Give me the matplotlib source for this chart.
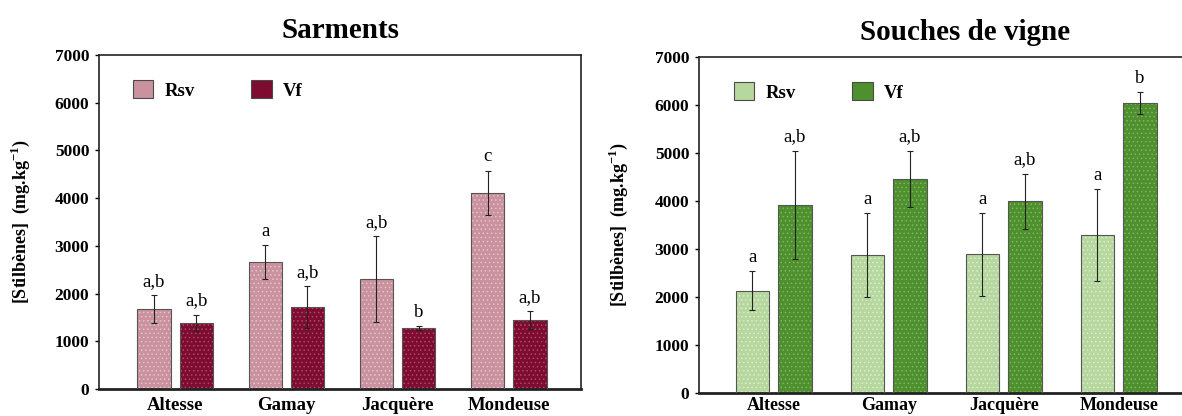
import matplotlib
matplotlib.use("Agg")
import matplotlib.pyplot as plt
import numpy as np
from matplotlib.patches import Patch

plt.rcParams['font.family'] = ['Liberation Serif', 'DejaVu Serif']
plt.rcParams['hatch.linewidth'] = 0.6

categories = ["Altesse", "Gamay", "Jacquère", "Mondeuse"]
series_names = ["Rsv", "Vf"]

# Sarments
sar_rsv = [1675, 2660, 2300, 4115]
sar_rsv_err = [285, 350, 905, 460]
sar_vf = [1385, 1715, 1285, 1440]
sar_vf_err = [175, 440, 40, 190]
sar_rsv_lab = ["a,b", "a", "a,b", "c"]
sar_vf_lab = ["a,b", "a,b", "b", "a,b"]

# Souches de vigne
sou_rsv = [2135, 2870, 2890, 3285]
sou_rsv_err = [410, 875, 860, 960]
sou_vf = [3915, 4455, 3990, 6035]
sou_vf_err = [1130, 590, 580, 230]
sou_rsv_lab = ["a", "a", "a", "a"]
sou_vf_lab = ["a,b", "a,b", "a,b", "b"]

titles = ["Sarments", "Souches de vigne"]
yticks = [0, 1000, 2000, 3000, 4000, 5000, 6000, 7000]
ylabel = "[Stilbènes]  (mg.kg$^{\\mathregular{-1}}$)"

fig = plt.figure(figsize=(11.82, 4.16), dpi=100)

panels = [
    dict(rect=[99/1182, 1-389/416, 482/1182, 334/416], xlim=(-0.685, 3.65),
         rsv=sar_rsv, rsv_err=sar_rsv_err, vf=sar_vf, vf_err=sar_vf_err,
         rl=sar_rsv_lab, vl=sar_vf_lab,
         c1="#c9929e", h1="#e4c3ca", c2="#7e0c31", h2="#a84a68",
         off=0.19, w=0.30, title=titles[0], ylpad=16, tx=0.5, lx=0.035,
         xpad=6, xfs=13.5),
    dict(rect=[699/1182, 1-393/416, 492/1182, 336/416], xlim=(-0.65, 3.63),
         rsv=sou_rsv, rsv_err=sou_rsv_err, vf=sou_vf, vf_err=sou_vf_err,
         rl=sou_rsv_lab, vl=sou_vf_lab,
         c1="#b6d89e", h1="#dcedcf", c2="#4e8f2e", h2="#7db562",
         off=0.185, w=0.29, title=titles[1], ylpad=18, tx=0.54, lx=0.036,
         xpad=3, xfs=13),
]

x = np.arange(len(categories))
for p in panels:
    ax = fig.add_axes(p["rect"])
    w = p["w"]
    for vals, errs, labs, c, h, sgn in [
        (p["rsv"], p["rsv_err"], p["rl"], p["c1"], p["h1"], -1),
        (p["vf"], p["vf_err"], p["vl"], p["c2"], p["h2"], 1),
    ]:
        xs = x + sgn * p["off"]
        ax.bar(xs, vals, w, color=c, edgecolor=h, hatch="....", linewidth=0, zorder=2)
        ax.bar(xs, vals, w, fill=False, edgecolor="#555555", linewidth=0.8, zorder=3)
        ax.errorbar(xs, vals, yerr=errs, fmt="none", ecolor="#222222",
                    elinewidth=0.8, capsize=2, capthick=0.8, zorder=4)
        for xi, v, e, t in zip(xs, vals, errs, labs):
            ax.text(xi, v + e + 110, t, ha="center", va="bottom", fontsize=13.5)
    ax.set_xlim(*p["xlim"])
    ax.set_ylim(0, 7000)
    ax.set_yticks(yticks)
    ax.set_yticklabels([str(t) for t in yticks], fontsize=12.5, fontweight="bold")
    ax.set_xticks(x)
    ax.set_xticklabels(categories, fontsize=p["xfs"], fontweight="bold")
    ax.tick_params(axis="x", length=0, pad=p["xpad"])
    ax.tick_params(axis="y", length=3, width=1, pad=4)
    for s in ax.spines.values():
        s.set_linewidth(1.2)
        s.set_color("#222222")
    ax.spines["bottom"].set_linewidth(2.0)
    ax.set_ylabel(ylabel, fontsize=13, fontweight="bold", labelpad=p["ylpad"])
    ax.set_title(p["title"], fontsize=21, fontweight="bold", pad=12, x=p["tx"])
    handles = [Patch(facecolor=p["c1"], edgecolor="#4a4a4a", linewidth=0.8),
               Patch(facecolor=p["c2"], edgecolor="#4a4a4a", linewidth=0.8)]
    ax.legend(handles, series_names, loc="upper left", ncol=2, frameon=False,
              prop=dict(weight="bold", size=13.5), handlelength=1.1,
              handleheight=1.1, columnspacing=3.0, handletextpad=0.6,
              bbox_to_anchor=(p["lx"], 0.975))

fig.savefig("out.png", dpi=100)
